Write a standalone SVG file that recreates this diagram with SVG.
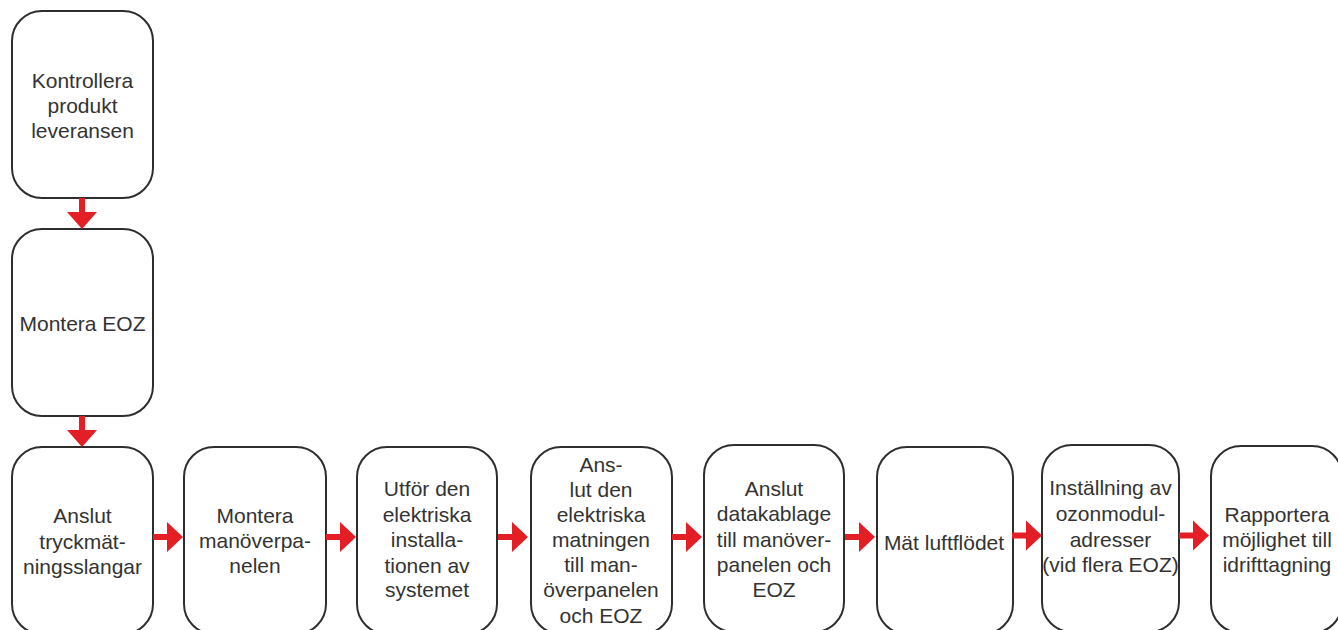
<svg xmlns="http://www.w3.org/2000/svg" width="1338" height="630" viewBox="0 0 1338 630">
<style>
.box{fill:#fff;stroke:#2e2e2e;stroke-width:2}
.t{font-family:"Liberation Sans",Arial,sans-serif;font-size:21px;fill:#333;text-anchor:middle}
.arr{fill:#e31e24}
</style>
<defs>
<path id="ah" d="M0,-3 L14,-3 L14,-15 L30,0 L14,15 L14,3 L0,3 Z"/>
<path id="av" d="M-3,0 L-3,14 L-15,14 L0,31 L15,14 L3,14 L3,0 Z"/>
</defs>
<rect width="1338" height="630" fill="#fff"/>
<g id="n1"><rect class="box" x="12" y="11" width="141" height="187" rx="30"/>
<text class="t"><tspan x="82.5" y="87.5">Kontrollera</tspan><tspan x="82.5" y="112.5">produkt</tspan><tspan x="82.5" y="137.5">leveransen</tspan></text></g>
<g id="n2"><rect class="box" x="12" y="229" width="141" height="187" rx="30"/>
<text class="t" x="82.5" y="331">Montera EOZ</text></g>
<g id="n3"><rect class="box" x="12" y="447" width="141" height="187" rx="30"/>
<text class="t"><tspan x="82.5" y="523">Anslut</tspan><tspan x="82.5" y="548.5">tryckmät-</tspan><tspan x="82.5" y="573.5">ningsslangar</tspan></text></g>
<g id="n4"><rect class="box" x="184" y="447" width="142" height="187" rx="30"/>
<text class="t"><tspan x="255" y="523">Montera</tspan><tspan x="255" y="548">manöverpa-</tspan><tspan x="255" y="573">nelen</tspan></text></g>
<g id="n5"><rect class="box" x="357" y="447" width="140" height="187" rx="30"/>
<text class="t"><tspan x="427" y="496">Utför den</tspan><tspan x="427" y="521.5">elektriska</tspan><tspan x="427" y="547">installa-</tspan><tspan x="427" y="572.5">tionen av</tspan><tspan x="427" y="597">systemet</tspan></text></g>
<g id="n6"><rect class="box" x="531" y="447" width="141" height="187" rx="30"/>
<text class="t"><tspan x="601" y="471.5">Ans-</tspan><tspan x="601" y="496.5">lut den</tspan><tspan x="601" y="522">elektriska</tspan><tspan x="601" y="547">matningen</tspan><tspan x="601" y="572">till man-</tspan><tspan x="601" y="597">överpanelen</tspan><tspan x="601" y="622.5">och EOZ</tspan></text></g>
<g id="n7"><rect class="box" x="704" y="445" width="140" height="187" rx="30"/>
<text class="t"><tspan x="774" y="495.5">Anslut</tspan><tspan x="774" y="521">datakablage</tspan><tspan x="774" y="546.5">till manöver-</tspan><tspan x="774" y="572">panelen och</tspan><tspan x="774" y="597">EOZ</tspan></text></g>
<g id="n8"><rect class="box" x="877" y="447" width="136" height="187" rx="30"/>
<text class="t" x="944" y="550">Mät luftflödet</text></g>
<g id="n9"><rect class="box" x="1042" y="445" width="137" height="187" rx="30"/>
<text class="t"><tspan x="1110.5" y="495">Inställning av</tspan><tspan x="1110.5" y="521">ozonmodul-</tspan><tspan x="1110.5" y="546.5">adresser</tspan><tspan x="1110.5" y="572">(vid flera EOZ)</tspan></text></g>
<g id="n10"><rect class="box" x="1211" y="446" width="131" height="187" rx="30"/>
<text class="t"><tspan x="1277" y="521.5">Rapportera</tspan><tspan x="1277" y="546.5">möjlighet till</tspan><tspan x="1277" y="572">idrifttagning</tspan></text></g>
<g id="connectors" class="arr">
<use href="#av" x="82" y="198"/>
<use href="#av" x="82" y="416"/>
<use href="#ah" x="153" y="537"/>
<use href="#ah" x="326" y="537"/>
<use href="#ah" x="498" y="537"/>
<use href="#ah" x="672" y="537"/>
<use href="#ah" x="845" y="537"/>
<use href="#ah" x="1012" y="535.5"/>
<use href="#ah" x="1179" y="535.5"/>
</g>
</svg>
